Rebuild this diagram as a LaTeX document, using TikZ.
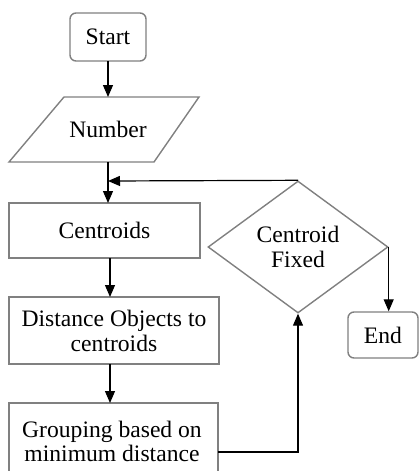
\documentclass[tikz,border=0pt]{standalone}
\usepackage{fontspec}
\setmainfont{Liberation Serif}
\usetikzlibrary{shapes.geometric,arrows.meta}
\begin{document}
\begin{tikzpicture}[x=1pt,y=-1pt,
  box/.style={draw=black!50,line width=1.4pt,inner sep=0pt,align=center,font=\fontsize{23.6}{25}\selectfont},
  txt/.style={inner sep=0pt,align=center,font=\fontsize{23.6}{24}\selectfont},
  arr/.style={draw=black,line width=1.2pt,-{Triangle[length=12pt,width=10pt]}},
  ln/.style={draw=black!80,line width=1.2pt}]
\useasboundingbox (0,0) rectangle (419,471);
\clip (0,0) rectangle (419,471);
\node[box,rounded corners=6pt,minimum width=76pt,minimum height=48pt] (start) at (108,37) {Start};
\node[txt,minimum width=135pt,minimum height=65pt] (number) at (108,129.5) {Number};
\draw[draw=black!50,line width=1.4pt] (64,97) -- (199,97) -- (154,162) -- (9,162) -- cycle;
\node[box,minimum width=191pt,minimum height=55pt] (centroids) at (104.5,230.5) {Centroids};
\node[box,minimum width=210pt,minimum height=67pt] (dist) at (114,330.5) {Distance Objects to\\centroids};
\node[box,minimum width=209pt,minimum height=100pt,text depth=0pt] (group) at (113.5,453) {};
\node[txt] (grouptxt) at (112,441) {Grouping based on\\minimum distance};
\node[box,shape=diamond,minimum width=180pt,minimum height=132pt] (fixed) at (298,247) {Centroid\\Fixed};
\node[box,rounded corners=6pt,minimum width=70pt,minimum height=46pt] (end) at (383,335) {End};
\coordinate (j1) at (108,181);
\coordinate (g1) at (298,452);
\draw[arr] (108,61) -- (108,97);
\draw[arr] (108,162) -- (108,203);
\draw[arr] (fixed.north) -- (j1);
\draw[arr] (110,258) -- (110,297);
\draw[arr] (110,364) -- (110,403);
\draw[arr] (218,452) -- (g1) -- (fixed.south);
\draw[arr] (fixed.east) -- (fixed.east |- end.north);
\end{tikzpicture}
\end{document}
